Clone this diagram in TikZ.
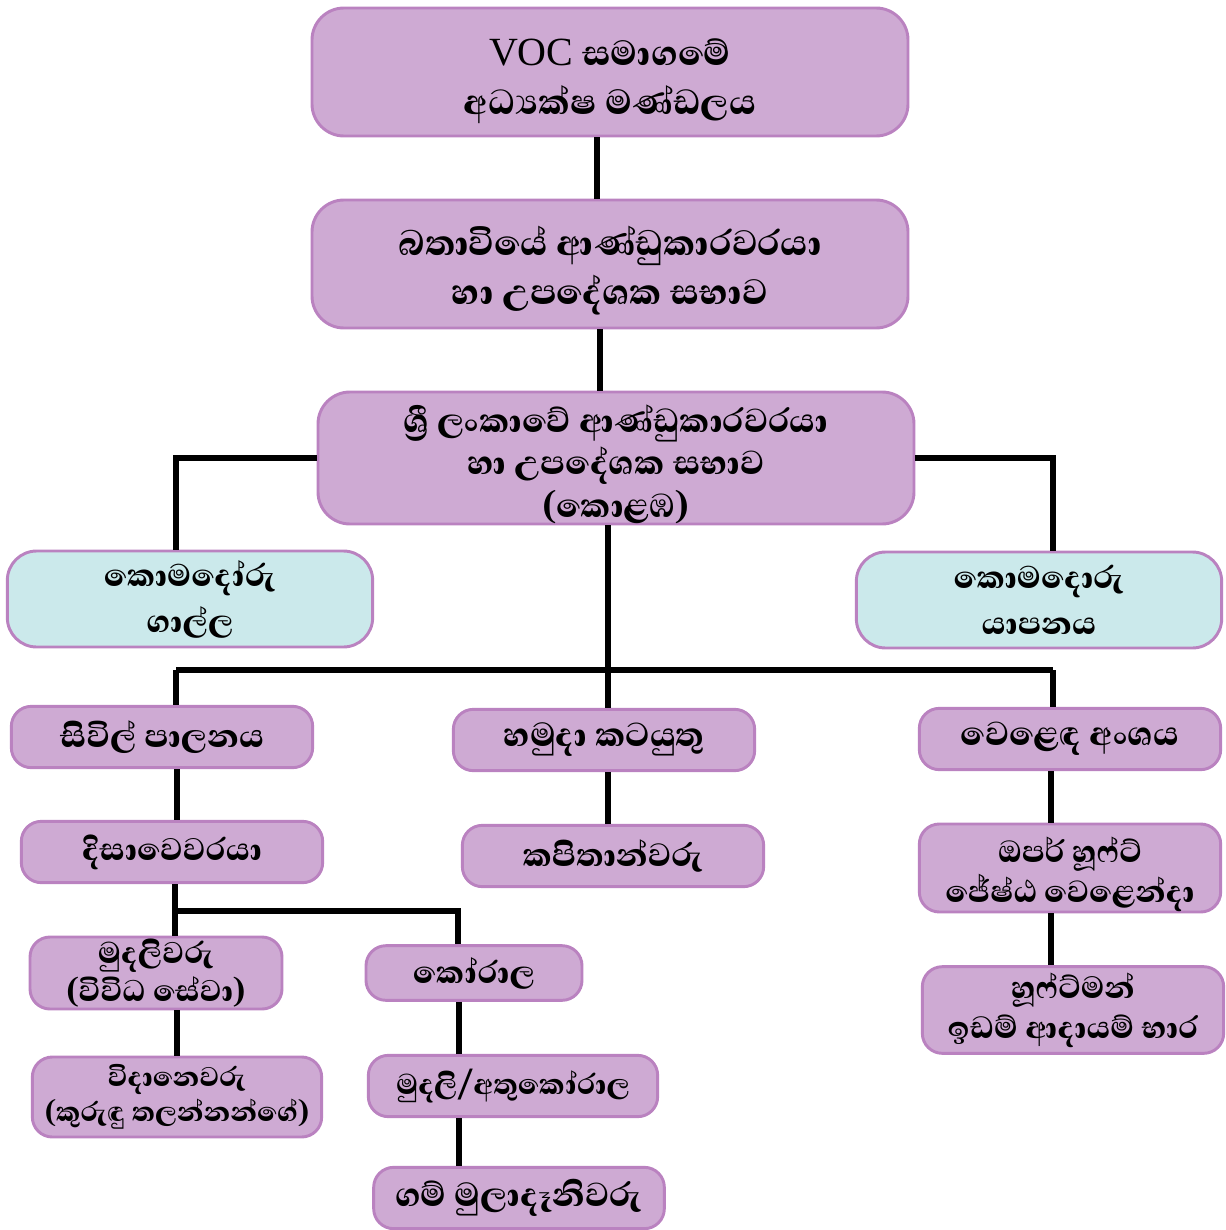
\documentclass[tikz,border=0pt]{standalone}
\usepackage{fontspec}
\newfontfamily\sinfont[Script=Sinhala, BoldFont={Abhaya Libre ExtraBold}]{Abhaya Libre}
\newfontfamily\voc{Liberation Serif}
\usetikzlibrary{calc}

\definecolor{boxfill}{RGB}{206,170,211}
\definecolor{boxline}{RGB}{186,130,192}
\definecolor{cyanfill}{RGB}{203,233,235}

\newcommand{\sz}[2]{\sinfont\bfseries\fontsize{#1}{#2}\selectfont}

\tikzset{every picture/.style={line width=0.75pt}}
\tikzset{
  orgbox/.style={draw=boxline, fill=boxfill, line width=2.2pt, rounded corners=24pt,
    align=center, inner sep=0pt, font=\sz{34}{37}},
  bigbox/.style={orgbox, minimum width=447pt, minimum height=96pt},
  cmdbox/.style={orgbox, fill=cyanfill, minimum width=274pt, minimum height=72pt, rounded corners=22pt,
    font=\sz{30}{34.5}},
  smallbox/.style={orgbox, minimum width=226pt, minimum height=46pt, rounded corners=15pt,
    font=\sz{31}{30}},
  conn/.style={line width=4.4pt}
}

\begin{document}
\begin{tikzpicture}[x=0.75pt,y=0.75pt,yscale=-1,xscale=1]
\useasboundingbox (0,0) rectangle (1225,1230);

%Nodes
\node[bigbox, font=\sz{33.5}{37}] (voc) at (610,72) {\rule{0pt}{34pt}{\voc\mdseries\fontsize{30}{37}\selectfont VOC} සමාගමේ\\ අධ්‍යක්ෂ මණ්ඩලය};
\node[bigbox] (batavia) at (610,264) {\rule{0pt}{32pt}බතාවියේ ආණ්ඩුකාරවරයා\\ හා උපදේශක සභාව};
\node[bigbox, minimum height=99pt, font=\sz{32}{32}] (ceylon) at (616,458) {\rule{0pt}{30pt}ශ්‍රී ලංකාවේ ආණ්ඩුකාරවරයා\\ හා උපදේශක සභාව\\ (කොළඹ)};
\node[cmdbox] (galle) at (190,599) {කොමදෝරු\\ ගාල්ල};
\node[cmdbox] (jaffna) at (1039,600) {කොමදොරු\\ යාපනය};

\node[smallbox] (civil) at (162,737) {සිවිල් පාලනය};
\node[smallbox, font=\sz{32}{30}] (army) at (604,740) {හමුදා කටයුතු};
\node[smallbox, font=\sz{32}{30}] (trade) at (1070,739) {වෙළෙඳ අංශය};

\node[smallbox, font=\sz{30}{30}] (disava) at (172,852) {දිසාවෙවරයා};
\node[smallbox] (captain) at (613,856) {කපිතාන්වරු};
\node[smallbox, minimum height=66pt, font=\sz{29.5}{30}] (opper) at (1070,868) {\rule{0pt}{28pt}ඔපර් හූෆ්ට්\\ ජේෂ්ඨ වෙළෙන්දා};
\node[smallbox, minimum height=65pt, font=\sz{29.5}{30}] (hoofd) at (1073,1010) {හූෆ්ට්මන්\\ ඉඩම් ආදායම් භාර};

\node[smallbox, minimum width=189pt, minimum height=54pt, font=\sz{28.8}{28}] (mudali) at (156,973) {මුදලිවරු\\ (විවිධ සේවා)};
\node[smallbox, minimum width=217pt, minimum height=60pt, font=\sz{26}{26}] (vidane) at (177,1097) {විදානෙවරු\\ (කුරුඳු තලන්නන්ගේ)};
\node[smallbox, minimum width=162pt, minimum height=41pt, font=\sz{30}{30}] (korala) at (474,973) {කෝරාල};
\node[smallbox, minimum width=217pt, font=\sz{27.5}{30}] (athu) at (513,1086) {මුදලි/අතුකෝරාල};
\node[smallbox, minimum width=218pt, font=\sz{32}{30}] (gam) at (519,1198) {ගම් මුලාදෑනිවරු};

%Connectors
\coordinate (busL) at (176,670);
\coordinate (busC) at (608,670);
\coordinate (busR) at (1053,670);
\coordinate (forkL) at (175,911);
\coordinate (forkR) at (458,911);

\draw[conn] ([xshift=-9.75]voc.south) -- ([xshift=-9.75]batavia.north);
\draw[conn] ([xshift=-7.5]batavia.south) -- ([xshift=-12]ceylon.north);
\draw[conn] (ceylon.west) -| ($(galle.north)+(-14,0)$);
\draw[conn] (ceylon.east) -| ($(jaffna.north)+(14,0)$);
\draw[conn] (ceylon.south -| busC) -- (busC);
\draw[conn] (busL) -- (busR);
\draw[conn] (busL) -- (busL |- civil.north);
\draw[conn] (busC) -- (busC |- army.north);
\draw[conn] (busR) -- (busR |- trade.north);
\draw[conn] ($(civil.south)+(15,0)$) -- ($(disava.north)+(5,0)$);
\draw[conn] ($(army.south)+(4,0)$) -- ($(captain.north)+(-5,0)$);
\draw[conn] ($(trade.south)+(-19,0)$) -- ($(opper.north)+(-19,0)$);
\draw[conn] ($(opper.south)+(-19,0)$) -- ($(hoofd.north)+(-22,0)$);
\draw[conn] (disava.south -| forkL) -- (forkL) -- (forkR) -- (forkR |- korala.north);
\draw[conn] (forkL) -- (forkL |- mudali.north);
\draw[conn] ($(mudali.south)+(21,0)$) -- (vidane.north);
\draw[conn] ($(korala.south)+(-15,0)$) -- ($(athu.north)+(-54,0)$);
\draw[conn] ($(athu.south)+(-54,0)$) -- ($(gam.north)+(-60,0)$);
\end{tikzpicture}
\end{document}
